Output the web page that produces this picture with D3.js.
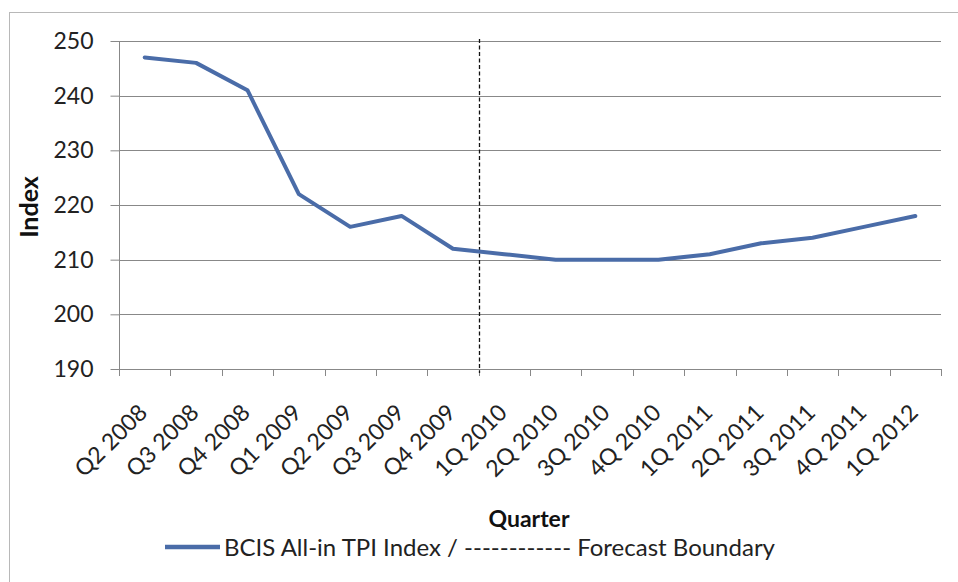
<!DOCTYPE html>
<html>
<head>
<meta charset="utf-8">
<script src="https://cdn.jsdelivr.net/npm/d3@7"></script>
<style>
  html, body { margin: 0; padding: 0; background: #fff; }
  svg { display: block; font-family: Lato, "Open Sans", sans-serif; }
</style>
</head>
<body>
<svg id="chart" width="958" height="582"></svg>
<script>
// Quarterly BCIS All-in Tender Price Index, with forecast from 1Q 2010
const quarters = ["Q2 2008", "Q3 2008", "Q4 2008", "Q1 2009", "Q2 2009", "Q3 2009", "Q4 2009",
  "1Q 2010", "2Q 2010", "3Q 2010", "4Q 2010", "1Q 2011", "2Q 2011", "3Q 2011", "4Q 2011", "1Q 2012"];
const tpiIndex = [247, 246, 241, 222, 216, 218, 212, 211, 210, 210, 210, 211, 213, 214, 216, 218];
const yTicks = [190, 200, 210, 220, 230, 240, 250];
const forecastStart = "1Q 2010";

const svg = d3.select("#chart");
const margin = { left: 119, right: 941, top: 41, bottom: 369 };
const lineColor = "#4a6ca8";
const gridColor = "#888";
const textColor = "#222";

// outer chart frame
svg.append("rect")
  .attr("x", 9.5).attr("y", 12.5)
  .attr("width", 980).attr("height", 600)
  .attr("fill", "none").attr("stroke", "#b8b8b8").attr("stroke-width", 1);

const x = d3.scaleBand().domain(quarters).range([margin.left, margin.right]).padding(0);
const y = d3.scaleLinear().domain([190, 250]).range([margin.bottom, margin.top]);

// horizontal gridlines
svg.append("g")
  .selectAll("line")
  .data(yTicks.filter(v => v !== 190))
  .join("line")
  .attr("x1", margin.left).attr("x2", margin.right)
  .attr("y1", d => Math.round(y(d)) + 0.5).attr("y2", d => Math.round(y(d)) + 0.5)
  .attr("stroke", gridColor).attr("stroke-width", 1);

// y axis
const yAxis = svg.append("g")
  .attr("transform", `translate(${margin.left + 0.5},0)`)
  .call(d3.axisLeft(y).tickValues(yTicks).tickSize(9).tickPadding(17).tickFormat(d3.format("d")));
yAxis.select(".domain").attr("stroke", gridColor).attr("d", `M0,${margin.top}V${margin.bottom}`);
yAxis.selectAll(".tick line").attr("stroke", gridColor);
yAxis.selectAll(".tick text").attr("font-size", 23).attr("fill", textColor).attr("font-family", "Lato");

// x axis baseline and boundary tick marks
svg.append("line")
  .attr("x1", margin.left).attr("x2", margin.right)
  .attr("y1", Math.round(y(190)) + 0.5).attr("y2", Math.round(y(190)) + 0.5)
  .attr("stroke", gridColor);
const boundaries = quarters.map(q => x(q)).concat([x.range()[1]]);
svg.append("g")
  .selectAll("line")
  .data(boundaries)
  .join("line")
  .attr("x1", d => Math.round(d) + 0.5).attr("x2", d => Math.round(d) + 0.5)
  .attr("y1", margin.bottom).attr("y2", margin.bottom + 7)
  .attr("stroke", gridColor);

// rotated category labels
svg.append("g")
  .selectAll("text")
  .data(quarters)
  .join("text")
  .attr("transform", d => `translate(${x(d) + x.bandwidth() / 2 + 4},${margin.bottom + 45}) rotate(-45)`)
  .attr("text-anchor", "end")
  .attr("font-size", 23)
  .attr("fill", textColor)
  .text(d => d);

// forecast boundary
svg.append("line")
  .attr("x1", Math.round(x(forecastStart)) + 0.5).attr("x2", Math.round(x(forecastStart)) + 0.5)
  .attr("y1", margin.top - 2).attr("y2", margin.bottom + 4)
  .attr("stroke", "#111").attr("stroke-width", 1.3).attr("stroke-dasharray", "4,2.5");

// index line
const line = d3.line()
  .x((d, i) => x(quarters[i]) + x.bandwidth() / 2)
  .y(d => y(d));
svg.append("path")
  .datum(tpiIndex)
  .attr("d", line)
  .attr("fill", "none")
  .attr("stroke", lineColor)
  .attr("stroke-width", 4)
  .attr("stroke-linejoin", "round")
  .attr("stroke-linecap", "round");

// axis titles
svg.append("text")
  .attr("transform", "translate(38,207) rotate(-90)")
  .attr("text-anchor", "middle")
  .attr("font-size", 25).attr("font-weight", "bold").attr("fill", "#111")
  .text("Index");
svg.append("text")
  .attr("x", 529).attr("y", 527)
  .attr("text-anchor", "middle")
  .attr("font-size", 23).attr("font-weight", "bold").attr("fill", "#111")
  .text("Quarter");

// legend
svg.append("line")
  .attr("x1", 165).attr("x2", 220).attr("y1", 547).attr("y2", 547)
  .attr("stroke", lineColor).attr("stroke-width", 4.5);
svg.append("text")
  .attr("x", 224).attr("y", 556)
  .attr("font-size", 24).attr("fill", textColor)
  .text("BCIS All-in TPI Index / ------------ Forecast Boundary");
</script>
</body>
</html>
